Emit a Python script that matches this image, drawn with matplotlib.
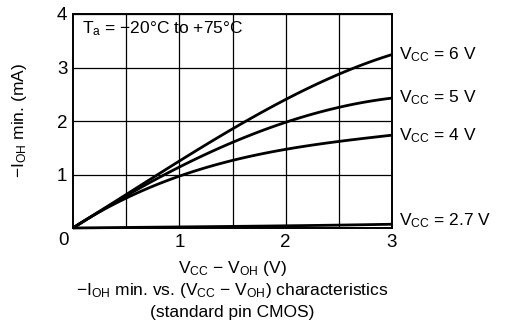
import numpy as np
import matplotlib.pyplot as plt

plt.rcParams['font.family'] = ['Liberation Sans', 'DejaVu Sans']
plt.rcParams['mathtext.fontset'] = 'custom'
plt.rcParams['mathtext.rm'] = 'Liberation Sans'

# values
x_vals = [0, 0.5, 1.0, 1.5, 2.0, 2.5, 3.0]
i_6v = [0, 0.63, 1.25, 1.85, 2.40, 2.88, 3.24]
i_5v = [0, 0.60, 1.14, 1.60, 1.98, 2.25, 2.43]
i_4v = [0, 0.57, 0.97, 1.25, 1.47, 1.63, 1.73]
i_27v = [0, 0.01, 0.02, 0.03, 0.04, 0.055, 0.07]
series = [(i_6v, '6 V'), (i_5v, '5 V'), (i_4v, '4 V'), (i_27v, '2.7 V')]

fig = plt.figure(figsize=(5.08, 3.29), dpi=100)
ax = fig.add_axes([73 / 508, 1 - 228 / 329, 319 / 508, 214 / 329])

xs = np.linspace(0, 3, 61)
for vals, lab in series:
    # smooth curve through the read points
    c = np.polyfit(x_vals, vals, 3)
    ys = np.polyval(c, xs)
    ys[0] = 0
    ax.plot(xs, ys, color='black', lw=2.0, solid_capstyle='butt', clip_on=False)
    ax.text(3.07, vals[-1] + (0.06 if lab == '2.7 V' else 0), r'$\mathregular{V_{CC}}$ = ' + lab,
            fontsize=12.5, va='center', ha='left')

ax.set_xlim(0, 3)
ax.set_ylim(0, 4)
ax.set_xticks([0.5, 1, 1.5, 2, 2.5, 3])
ax.set_xticklabels(['', '1', '', '2', '', '3'])
ax.set_yticks([1, 2, 3, 4])
ax.set_yticklabels(['1', '2', '3', '4'])
ax.grid(True, color='black', lw=0.9)
ax.tick_params(length=0, labelsize=13.5, pad=4)
for s in ax.spines.values():
    s.set_linewidth(1.4)
ax.text(-0.04, -0.08, '0', fontsize=13.5, ha='right', va='top')

ax.text(0.08, 3.72, r'$\mathregular{T_a}$ = −20°C to +75°C', fontsize=12.5, va='center', ha='left')

ax.set_ylabel(r'$\mathregular{−I_{OH}}$ min. (mA)', fontsize=12.5, labelpad=20)
fig.text(232 / 508, 1 - 268 / 329, r'$\mathregular{V_{CC}}$ − $\mathregular{V_{OH}}$ (V)',
         fontsize=12.5, ha='center', va='center')
fig.text(232 / 508, 1 - 291 / 329,
         r'$\mathregular{−I_{OH}}$ min. vs. ($\mathregular{V_{CC}}$ − $\mathregular{V_{OH}}$) characteristics',
         fontsize=12.5, ha='center', va='center')
fig.text(232 / 508, 1 - 313 / 329, '(standard pin CMOS)', fontsize=12.5, ha='center', va='center')

fig.savefig('out.png', dpi=100)
